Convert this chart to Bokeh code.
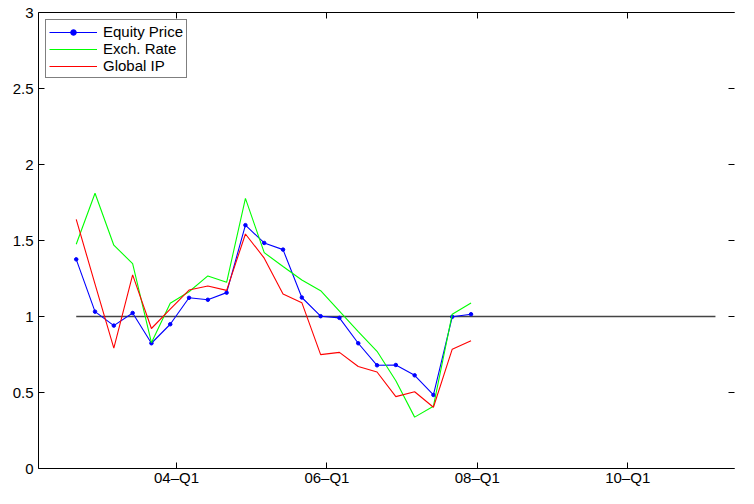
from bokeh.plotting import figure
from bokeh.models import FixedTicker, LinearAxis, Range1d, CustomLabelingPolicy
from bokeh.embed import file_html
from bokeh.resources import INLINE

# ---- data ----
quarters = ["2002Q3", "2002Q4",
            "2003Q1", "2003Q2", "2003Q3", "2003Q4",
            "2004Q1", "2004Q2", "2004Q3", "2004Q4",
            "2005Q1", "2005Q2", "2005Q3", "2005Q4",
            "2006Q1", "2006Q2", "2006Q3", "2006Q4",
            "2007Q1", "2007Q2", "2007Q3", "2007Q4"]
equity_price = [1.376, 1.032, 0.940, 1.023, 0.824, 0.949, 1.123, 1.110, 1.157, 1.601, 1.484,
                1.440, 1.125, 1.002, 0.991, 0.824, 0.679, 0.681, 0.613, 0.484, 0.998, 1.015]
exch_rate = [1.475, 1.811, 1.469, 1.348, 0.828, 1.087, 1.163, 1.267, 1.225, 1.777, 1.420,
             1.329, 1.240, 1.170, 1.035, 0.900, 0.771, 0.577, 0.338, 0.410, 1.015, 1.089]
global_ip = [1.639, 1.213, 0.792, 1.274, 0.921, 1.048, 1.174, 1.201, 1.172, 1.543, 1.384,
             1.148, 1.091, 0.749, 0.764, 0.671, 0.635, 0.473, 0.505, 0.403, 0.785, 0.841]
ref_quarters = ["2002Q3", "2011Q1"]
ref_values = [1.0, 1.0]

x_ticks = [2004, 2006, 2008, 2010]
x_tick_labels = ["04\u2013Q1", "06\u2013Q1", "08\u2013Q1", "10\u2013Q1"]
y_ticks = [0, 0.5, 1, 1.5, 2, 2.5, 3]
y_tick_labels = ["0", "0.5", "1", "1.5", "2", "2.5", "3"]


def qpos(q):
    # position of a quarter: its last month, as a fraction of the year
    year = int(q[:4])
    n = int(q[5])
    return year + (3 * n - 1) / 12.0


xs = [qpos(q) for q in quarters]
ref_xs = [qpos(q) for q in ref_quarters]

FONT = "Liberation Sans"

p = figure(width=738, height=488,
           x_range=Range1d(2002.165, 2011.42), y_range=Range1d(0, 3),
           output_backend="svg", toolbar_location=None,
           min_border_left=38, min_border_right=0,
           min_border_top=12, min_border_bottom=0)
p.outline_line_color = None
p.xgrid.grid_line_color = None
p.ygrid.grid_line_color = None
p.background_fill_color = "white"
p.border_fill_color = "white"


def style_axis(ax):
    ax.axis_line_color = "black"
    ax.axis_line_width = 1
    ax.major_tick_in = 6
    ax.major_tick_out = 0
    ax.minor_tick_line_color = None
    ax.major_tick_line_color = "black"
    ax.major_label_text_font = FONT
    ax.major_label_text_font_size = "15px"
    ax.major_label_text_color = "black"


# bottom axis
style_axis(p.xaxis[0])
p.xaxis[0].ticker = FixedTicker(ticks=x_ticks)
p.xaxis[0].major_label_overrides = dict(zip(x_ticks, x_tick_labels))
p.xaxis[0].major_label_standoff = 0

# left axis
style_axis(p.yaxis[0])
p.yaxis[0].ticker = FixedTicker(ticks=y_ticks)
p.yaxis[0].major_label_overrides = dict(zip(y_ticks, y_tick_labels))
p.yaxis[0].major_label_standoff = 5

# top axis (ticks only)
top = LinearAxis(ticker=FixedTicker(ticks=x_ticks))
style_axis(top)
top.major_label_text_font_size = "1px"
top.major_label_standoff = 0
top.major_label_policy = CustomLabelingPolicy(code="return new Set()")
p.add_layout(top, "above")

# right axis (ticks only; the border lies beyond the window)
right = LinearAxis(ticker=FixedTicker(ticks=y_ticks))
style_axis(right)
right.axis_line_color = None
right.major_label_text_font_size = "1px"
right.major_label_standoff = 0
right.major_label_policy = CustomLabelingPolicy(code="return new Set()")
p.add_layout(right, "right")

# reference line at 1
p.line(ref_xs, ref_values, line_color="#444444", line_width=1.3)

# series
p.line(xs, equity_price, line_color="#0000ff", line_width=1.1, legend_label="Equity Price")
p.scatter(xs, equity_price, size=3.5, marker="circle", fill_color="#0000ff",
          line_color="#0000ff", legend_label="Equity Price")
p.line(xs, exch_rate, line_color="#00ff00", line_width=1.1, legend_label="Exch. Rate")
p.line(xs, global_ip, line_color="#ff0000", line_width=1.1, legend_label="Global IP")

lg = p.legend[0]
lg.location = "top_left"
lg.margin = 7
lg.padding = 3
lg.spacing = 0
lg.glyph_width = 48
lg.glyph_height = 14
lg.label_height = 14
lg.label_standoff = 6
lg.border_line_color = "black"
lg.border_line_width = 1
lg.background_fill_alpha = 1
lg.label_text_font = FONT
lg.label_text_font_size = "15px"
lg.label_text_color = "black"

open("out.html", "w").write(file_html(p, INLINE))
